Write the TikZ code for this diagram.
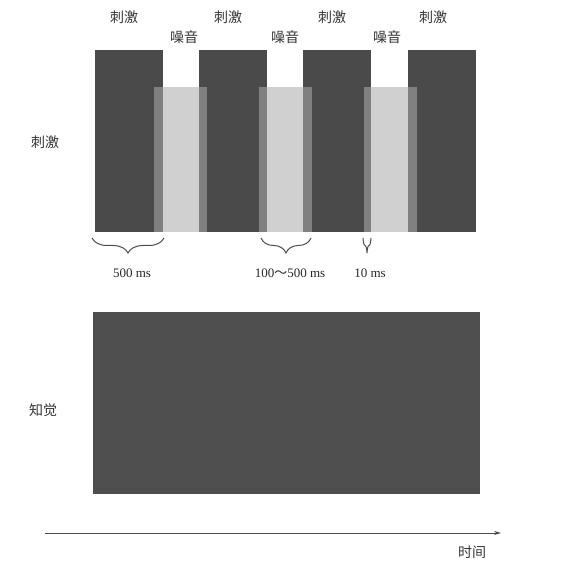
\documentclass[tikz,border=0pt]{standalone}
\usepackage{fontspec}
\setmainfont{Liberation Serif}
\newfontfamily\cjk{Noto Sans CJK SC}
\usetikzlibrary{arrows.meta,decorations.pathreplacing}
\definecolor{darkbar}{HTML}{4A4A4A}
\definecolor{percbar}{HTML}{4E4E4E}
\tikzset{
  stim/.style={fill=darkbar, draw=none, inner sep=0pt, outer sep=0pt, minimum width=68pt, minimum height=182pt},
  noise/.style={fill=black!33, fill opacity=0.56, draw=none, inner sep=0pt, outer sep=0pt, minimum width=53pt, minimum height=145pt},
  perc/.style={fill=percbar, draw=none, inner sep=0pt, outer sep=0pt, minimum width=387pt, minimum height=182pt},
  cjklab/.style={font=\cjk\fontsize{14}{16}\selectfont, text=black!80, inner sep=0pt},
  numlab/.style={font=\fontsize{13}{15}\selectfont, text=black!85, inner sep=0pt},
  bracedeco/.style={decorate, decoration={brace, amplitude=#1, mirror}, draw=black!70, line width=1pt},
  axis/.style={draw=black!70, line width=0.7pt, -{Stealth[length=7pt,width=4pt]}}
}
\begin{document}
\begin{tikzpicture}[x=1pt,y=1pt]
\useasboundingbox (0,0) rectangle (576,569);
% stimulus bars
\node[stim] (s1) at (129,428) {};
\node[stim] (s2) at (233,428) {};
\node[stim] (s3) at (337,428) {};
\node[stim] (s4) at (442,428) {};
% noise bars
\node[noise] (n1) at (180.5,409.5) {};
\node[noise] (n2) at (285.5,409.5) {};
\node[noise] (n3) at (390.5,409.5) {};
% top labels
\node[cjklab] (t1) at (124,552) {刺激};
\node[cjklab] (t2) at (228,552) {刺激};
\node[cjklab] (t3) at (332,552) {刺激};
\node[cjklab] (t4) at (433,552) {刺激};
\node[cjklab] (z1) at (184,532) {噪音};
\node[cjklab] (z2) at (285,532) {噪音};
\node[cjklab] (z3) at (387,532) {噪音};
% left labels
\node[cjklab] (lstim) at (45,427) {刺激};
\node[cjklab] (lperc) at (43,159) {知觉};
% braces
\coordinate (b1a) at (92,331);
\coordinate (b1b) at (164,331);
\coordinate (b2a) at (261,331);
\coordinate (b2b) at (311,331);
\coordinate (b3a) at (363,331);
\coordinate (b3b) at (371,331);
\draw[bracedeco=15pt] (b1a) -- (b1b);
\draw[bracedeco=15pt] (b2a) -- (b2b);
\draw[bracedeco=15pt] (b3a) -- (b3b);
\node[numlab] (l1) at (132,296) {500 ms};
\node[numlab] (l2) at (290,296) {100{\cjk ～}500 ms};
\node[numlab] (l3) at (370,296) {10 ms};
% perception bar
\node[perc] (p) at (286.5,166) {};
% time axis
\coordinate (ax0) at (45,36);
\coordinate (ax1) at (501,36);
\draw[axis] (ax0) -- (ax1);
\node[cjklab] (time) at (472,17) {时间};
\end{tikzpicture}
\end{document}
